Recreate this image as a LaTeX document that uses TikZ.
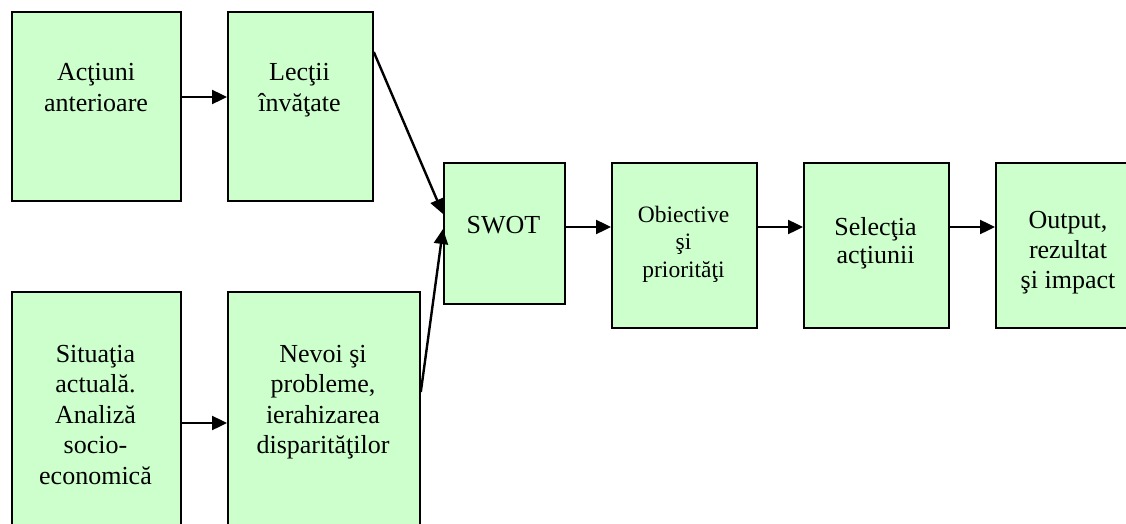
\documentclass[tikz,border=0pt]{standalone}
\usepackage{fontspec}
\setmainfont{Liberation Serif}
\usetikzlibrary{arrows.meta}
\definecolor{boxgreen}{HTML}{CCFFCC}
\newcommand\tlstrut{\rule{0pt}{20pt}}
\begin{document}
\begin{tikzpicture}[x=1pt,y=-1pt,
  stage/.style={draw=black,line width=1.8pt,fill=boxgreen,rectangle,anchor=north west,inner sep=0pt},
  big/.style={anchor=north,inner sep=0pt,align=center,font=\fontsize{26}{31}\selectfont},
  small/.style={anchor=north,inner sep=0pt,align=center,font=\fontsize{23.5}{27.5}\selectfont},
  flow/.style={line width=2.4pt,-{Triangle[length=15pt,width=14pt]}}]
\useasboundingbox (0,0) rectangle (1126,524);
\fill[white] (0,0) rectangle (1126,524);
% boxes
\node[stage,minimum width=169pt,minimum height=189pt] (a1) at (11,11) {};
\node[stage,minimum width=145pt,minimum height=189pt] (a2) at (227,11) {};
\node[stage,minimum width=169pt,minimum height=260pt] (b1) at (11,291) {};
\node[stage,minimum width=192pt,minimum height=260pt] (b2) at (227,291) {};
\node[stage,minimum width=121pt,minimum height=141pt] (swot) at (443,162) {};
\node[stage,minimum width=145pt,minimum height=165pt] (obj) at (611,162) {};
\node[stage,minimum width=145pt,minimum height=165pt] (sel) at (803,162) {};
\node[stage,minimum width=160pt,minimum height=165pt] (out) at (995,162) {};
% texts
\node[big] (ta1) at (96,60.5) {\tlstrut Acţiuni\\anterioare};
\node[big] (ta2) at (299.5,60.5) {\tlstrut Lecţii\\învăţate};
\node[big,font=\fontsize{26}{30.5}\selectfont] (tb1) at (95.5,342) {\tlstrut Situaţia\\actuală.\\Analiză\\socio-\\economică};
\node[big,font=\fontsize{26}{30.5}\selectfont] (tb2) at (323,342) {\tlstrut Nevoi şi\\probleme,\\ierahizarea\\disparităţilor};
\node[big] (tswot) at (503.5,213) {\tlstrut SWOT};
\node[small] (tobj) at (683.5,202) {\tlstrut Obiective\\şi\\priorităţi};
\node[big,font=\fontsize{26}{28}\selectfont] (tsel) at (875.5,215) {\tlstrut Selecţia\\acţiunii};
\node[big,font=\fontsize{26}{30}\selectfont] (tout) at (1068,208) {\tlstrut Output,\\rezultat\\şi impact};
% connectors
\draw[flow] (a1.east |- 0,97) -- (a2.west |- 0,97);
\draw[flow] (b1.east |- 0,423) -- (b2.west |- 0,423);
\draw[flow] (a2.east |- 0,52) -- (swot.west |- 0,214);
\draw[flow] (b2.east |- 0,392) -- (swot.west |- 0,229);
\draw[flow] (swot.east |- 0,227) -- (obj.west |- 0,227);
\draw[flow] (obj.east |- 0,227) -- (sel.west |- 0,227);
\draw[flow] (sel.east |- 0,227) -- (out.west |- 0,227);
\end{tikzpicture}
\end{document}
